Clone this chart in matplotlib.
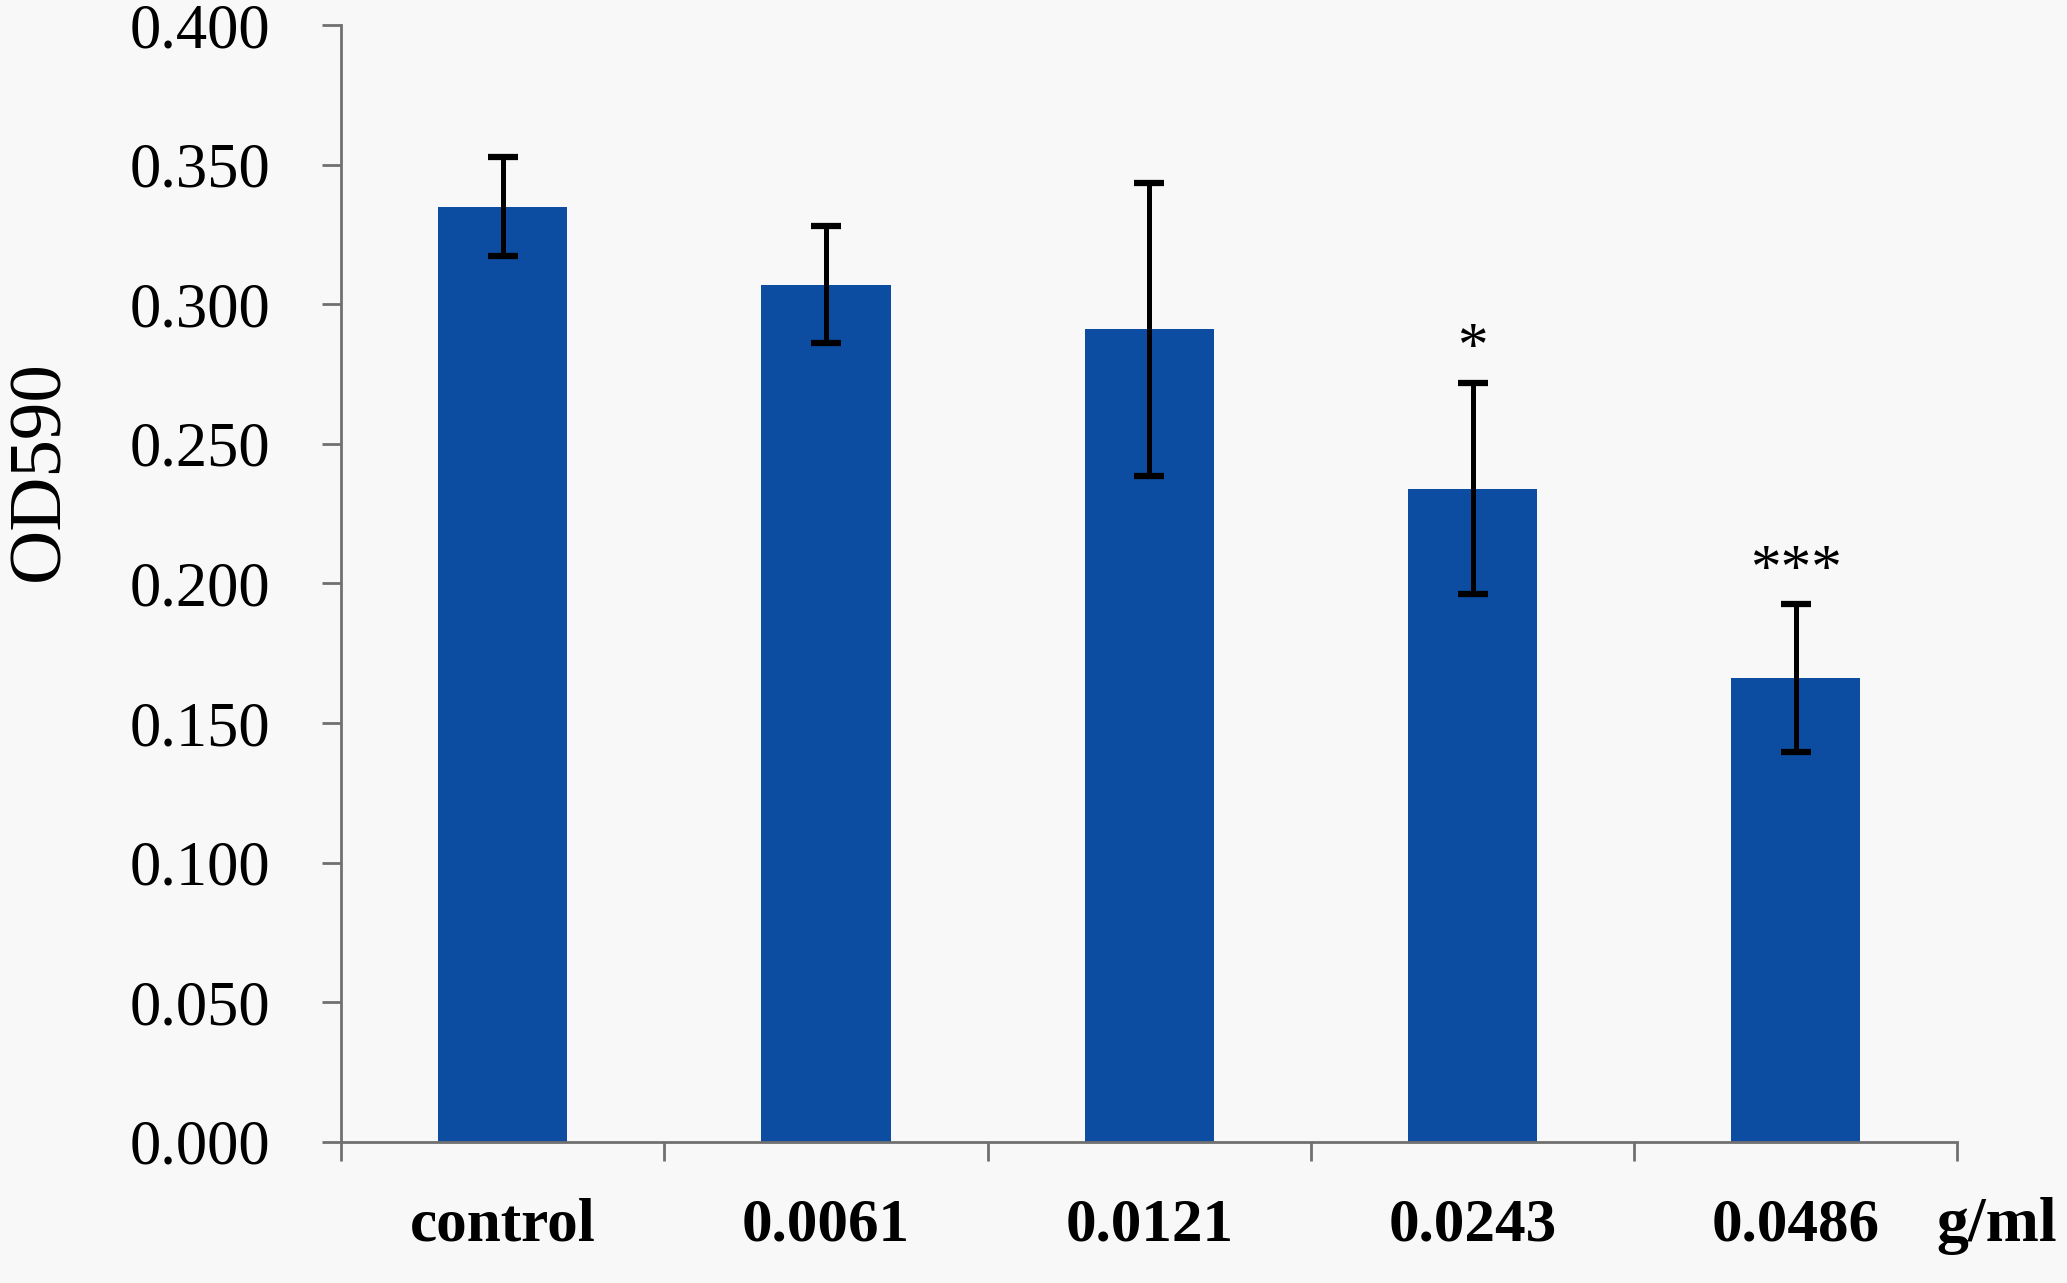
import matplotlib
matplotlib.use('Agg')
from matplotlib import pyplot as plt

# OD590 readings per concentration
labels = ['control', '0.0061', '0.0121', '0.0243', '0.0486']
means = [0.335, 0.307, 0.291, 0.234, 0.166]
errors = [0.0176, 0.0209, 0.0525, 0.0378, 0.0265]
stars = ['', '', '', '*', '***']
y_ticks = [0.0, 0.05, 0.10, 0.15, 0.20, 0.25, 0.30, 0.35, 0.40]

plt.rcParams['font.family'] = ['Liberation Serif', 'DejaVu Serif']

bg = '#f8f8f8'
axis_grey = '#707070'

fig = plt.figure(figsize=(20.67, 12.83), dpi=100, facecolor=bg)
ax = fig.add_axes([0.165, 0.11, 0.782, 0.8705], facecolor=bg)

x = list(range(len(labels)))
ax.bar(x, means, width=0.4, color='#0c4da2', zorder=2)
ax.errorbar(x, means, yerr=errors, fmt='none', ecolor='black',
            elinewidth=3.6, capsize=11, capthick=4.5, zorder=3)

# significance stars above the error bars
for i, s in enumerate(stars):
    if s:
        ax.text(x[i], means[i] + errors[i] + 0.002, s, ha='center',
                va='bottom', fontsize=44)

ax.set_xlim(-0.5, len(labels) - 0.5)
ax.set_ylim(0, 0.4)

# ticks at category boundaries, labels at centres
ax.set_xticks([i - 0.5 for i in range(len(labels) + 1)])
ax.set_xticklabels([])
ax.set_xticks(x, minor=True)
ax.set_xticklabels(labels, minor=True, fontsize=44, fontweight='bold')
ax.tick_params(axis='x', which='major', direction='out', length=14,
               width=2, color=axis_grey)
ax.tick_params(axis='x', which='minor', length=0, pad=40)

ax.set_yticks(y_ticks)
ax.set_yticklabels(['%.3f' % v for v in y_ticks], fontsize=45)
ax.tick_params(axis='y', direction='out', length=14, width=2,
               color=axis_grey, pad=37)

for side in ['top', 'right']:
    ax.spines[side].set_visible(False)
for side in ['left', 'bottom']:
    ax.spines[side].set_color(axis_grey)
    ax.spines[side].set_linewidth(2)

fig.text(0.0195, 0.633, 'OD590', rotation=90, ha='center', va='center',
         fontsize=54)
fig.text(0.995, 0.0327, 'g/ml', ha='right', va='baseline', fontsize=46,
         fontweight='bold')

plt.savefig('out.png', dpi=100, facecolor=bg)
